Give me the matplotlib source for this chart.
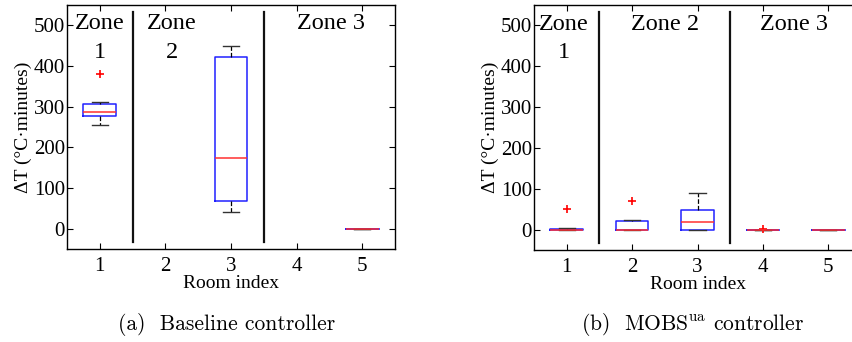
import numpy as np
import matplotlib.pyplot as plt

plt.rcParams['font.family'] = ['Liberation Serif', 'DejaVu Serif']
plt.rcParams['mathtext.fontset'] = 'cm'

# (a) baseline controller: only rooms 1, 3 and 5 have data
base_rooms = [1, 3, 5]
base_whislo = [255, 40, 0]
base_q1 = [276, 69, 0]
base_med = [288, 173, 0]
base_q3 = [307, 421, 0]
base_whishi = [312, 449, 0]
base_fliers = [[381], [], []]

# (b) MOBS^ua controller
mobs_rooms = [1, 2, 3, 4, 5]
mobs_whislo = [0, 0, 0, 0, 0]
mobs_q1 = [0, 0, 0, 0, 0]
mobs_med = [0, 0, 18, 0, 0]
mobs_q3 = [2, 20, 47, 0, 0]
mobs_whishi = [3, 24, 90, 0, 0]
mobs_fliers = [[51], [71], [], [2], []]

room_ticks = [1, 2, 3, 4, 5]
zone_bounds = [1.5, 3.5]


def draw_panel(ax, rooms, whislo, q1, med, q3, whishi, fliers):
    stats = []
    for i in range(len(rooms)):
        stats.append({'whislo': whislo[i], 'q1': q1[i], 'med': med[i],
                      'q3': q3[i], 'whishi': whishi[i], 'fliers': fliers[i]})
    ax.bxp(stats, positions=rooms, widths=0.5, capwidths=0.25,
           boxprops=dict(color='#2020ff', lw=1.1),
           medianprops=dict(color='#ff3030', lw=1.1),
           whiskerprops=dict(color='black', lw=0.9, ls='--'),
           capprops=dict(color='#333333', lw=1.0),
           flierprops=dict(marker='+', markeredgecolor='red', markersize=6, mew=1.2))
    for xb in zone_bounds:
        ax.plot([xb, xb], [-32, 532], color='#111111', lw=1.6)
    ax.set_xlim(0.5, 5.5)
    ax.set_ylim(-50, 550)
    ax.set_xticks(room_ticks)
    ax.set_xticklabels([str(r) for r in room_ticks])
    ax.set_yticks([0, 100, 200, 300, 400, 500])
    ax.tick_params(direction='in', top=True, right=True, length=4,
                   labelsize=15, width=0.8)
    ax.tick_params(axis='x', pad=6)
    ax.tick_params(axis='y', pad=1.5)
    ax.set_xlabel('Room index', fontsize=14, labelpad=-1)
    ax.set_ylabel('ΔT (°C·minutes)', fontsize=14, labelpad=1)
    for s in ax.spines.values():
        s.set_linewidth(1.0)


fig = plt.figure(figsize=(8.52, 3.42), dpi=100)
ax1 = fig.add_axes([67 / 852, 93 / 342, 328 / 852, 244 / 342])
ax2 = fig.add_axes([534 / 852, 92 / 342, 327 / 852, 245 / 342])

draw_panel(ax1, base_rooms, base_whislo, base_q1, base_med, base_q3, base_whishi, base_fliers)
draw_panel(ax2, mobs_rooms, mobs_whislo, mobs_q1, mobs_med, mobs_q3, mobs_whishi, mobs_fliers)

zfs = 17.5
ax1.text(1, 490, 'Zone', ha='center', va='baseline', fontsize=zfs)
ax1.text(1, 419, '1', ha='center', va='baseline', fontsize=zfs)
ax1.text(2.1, 490, 'Zone', ha='center', va='baseline', fontsize=zfs)
ax1.text(2.1, 419, '2', ha='center', va='baseline', fontsize=zfs)
ax1.text(4.52, 490, 'Zone 3', ha='center', va='baseline', fontsize=zfs)

ax2.text(0.95, 490, 'Zone', ha='center', va='baseline', fontsize=zfs)
ax2.text(0.95, 419, '1', ha='center', va='baseline', fontsize=zfs)
ax2.text(2.5, 490, 'Zone 2', ha='center', va='baseline', fontsize=zfs)
ax2.text(4.48, 490, 'Zone 3', ha='center', va='baseline', fontsize=zfs)

fig.text(227 / 852, 1 - 324 / 342, '(a)  Baseline controller', ha='center', va='center',
         fontsize=15.5, family='cmr10')
fig.text(693 / 852, 1 - 324 / 342, r'(b)  MOBS$^{\mathrm{ua}}$ controller', ha='center',
         va='center', fontsize=15.5, family='cmr10')

fig.savefig('out.png', dpi=100)
